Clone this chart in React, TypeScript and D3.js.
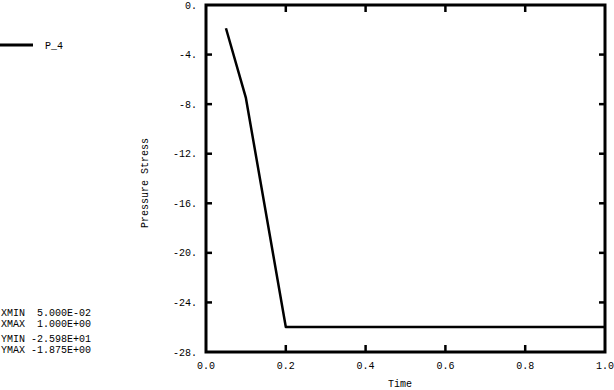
import React from 'react';
import * as d3 from 'd3';

// P_4 pressure history
const times = [0.05, 0.1, 0.2, 1.0];
const pressure = [-1.875, -7.5, -25.98, -25.98];

const xTicks = [0, 0.2, 0.4, 0.6, 0.8, 1.0];
const xTickLabels = ['0.0', '0.2', '0.4', '0.6', '0.8', '1.0'];
const yTicks = [0, -4, -8, -12, -16, -20, -24, -28];
const yTickLabels = ['0.', '-4.', '-8.', '-12.', '-16.', '-20.', '-24.', '-28.'];

const summaryNames = ['XMIN', 'XMAX', 'YMIN', 'YMAX'];
const summaryValues = [' 5.000E-02', ' 1.000E+00', '-2.598E+01', '-1.875E+00'];

const width = 614;
const height = 390;
const font = "'Liberation Mono', 'Courier New', 'DejaVu Sans Mono', monospace";

export default function App() {
  const x = d3.scaleLinear().domain([0, 1]).range([206, 605]);
  const y = d3.scaleLinear().domain([0, -28]).range([5, 352]);

  const line = d3.line<number>()
    .x((d, i) => x(times[i]))
    .y((d) => y(d));

  const [x0, x1] = x.range();
  const [y0, y1] = y.range();

  return (
    <svg width={width} height={height}
      style={{ position: 'absolute', left: 0, top: 0, background: '#fff', fontFamily: font, fontSize: 10 }}
      fill="#000">
      {/* frame */}
      <rect x={x0} y={y0} width={x1 - x0} height={y1 - y0} fill="none" stroke="#000" strokeWidth={3} />

      {/* y ticks, left and right, inward */}
      {yTicks.map((t, i) => (
        <g key={'y' + t}>
          {i > 0 && i < yTicks.length - 1 && (
            <>
              <line x1={x0} x2={x0 + 6} y1={y(t)} y2={y(t)} stroke="#000" strokeWidth={2.5} />
              <line x1={x1} x2={x1 - 6} y1={y(t)} y2={y(t)} stroke="#000" strokeWidth={2.5} />
            </>
          )}
          <text x={197} y={y(t) + 3.5} textAnchor="end">{yTickLabels[i]}</text>
        </g>
      ))}

      {/* x ticks, bottom and top, inward */}
      {xTicks.map((t, i) => (
        <g key={'x' + t}>
          {i > 0 && i < xTicks.length - 1 && (
            <>
              <line x1={x(t)} x2={x(t)} y1={y1} y2={y1 - 7} stroke="#000" strokeWidth={2.5} />
              <line x1={x(t)} x2={x(t)} y1={y0} y2={y0 + 7} stroke="#000" strokeWidth={2.5} />
            </>
          )}
          <text x={x(t)} y={369} textAnchor="middle">{xTickLabels[i]}</text>
        </g>
      ))}

      {/* axis titles */}
      <text x={400} y={387} textAnchor="middle">Time</text>
      <text transform="translate(148,183) rotate(-90)" textAnchor="middle">Pressure Stress</text>

      {/* data */}
      <path d={line(pressure) || ''} fill="none" stroke="#000" strokeWidth={2.5} strokeLinejoin="round" />

      {/* legend */}
      <line x1={0} x2={33} y1={45} y2={45} stroke="#000" strokeWidth={3} />
      <text x={45} y={49}>P_4</text>

      {/* summary */}
      {summaryNames.map((n, i) => (
        <text key={n} x={1} y={[316, 327, 342, 353][i]} style={{ whiteSpace: 'pre' }}>{n + ' ' + summaryValues[i]}</text>
      ))}
    </svg>
  );
}
